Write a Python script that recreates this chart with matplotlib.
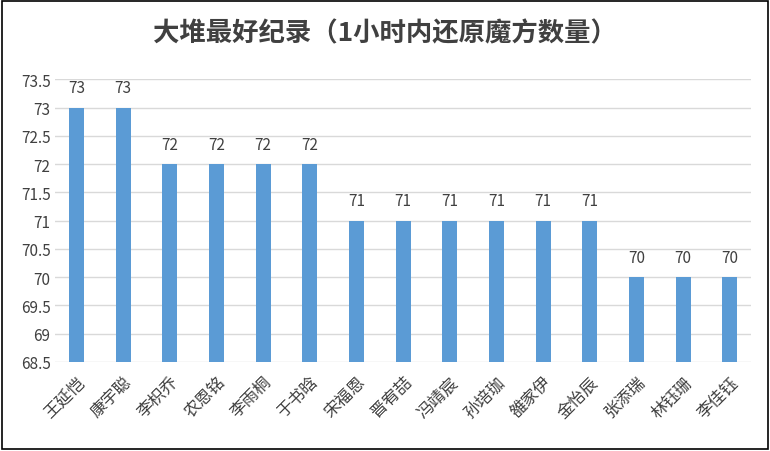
import matplotlib.pyplot as plt
import numpy as np

plt.rcParams['font.family'] = ['Noto Sans CJK SC', 'DejaVu Sans']

names = ['王延恺', '康宇聪', '李枳乔', '农恩铭', '李雨桐', '于书晗', '宋福恩', '晋宥喆',
         '冯靖宸', '孙培珈', '雒家伊', '金怡辰', '张添瑞', '林钰珊', '李佳钰']
scores = [73, 73, 72, 72, 72, 72, 71, 71, 71, 71, 71, 71, 70, 70, 70]
yticks = [68.5, 69, 69.5, 70, 70.5, 71, 71.5, 72, 72.5, 73, 73.5]

fig = plt.figure(figsize=(7.7, 4.52), dpi=100)
ax = fig.add_axes([0.072, 0.197, 0.903, 0.625])
x = np.arange(len(names))
ax.bar(x, scores, width=0.32, color='#5B9BD5', zorder=2)
for xi, v in zip(x, scores):
    ax.text(xi, v + 0.2, f'{v}', ha='center', va='bottom', fontsize=11, color='#404040')

ax.set_ylim(68.5, 73.5)
ax.set_xlim(-0.45, len(names) - 0.55)
ax.set_yticks(yticks)
ax.set_yticklabels([f'{t:g}' for t in yticks], fontsize=11, color='#404040')
ax.set_xticks(x)
ax.set_xticklabels(names, rotation=45, ha='right', rotation_mode='anchor',
                   fontsize=12, color='#404040')
ax.grid(axis='y', color='#D9D9D9', linewidth=1, zorder=0)
for s in ax.spines.values():
    s.set_visible(False)
ax.tick_params(length=0)
ax.tick_params(axis='x', pad=8)

fig.text(0.5, 0.925, '大堆最好纪录（1小时内还原魔方数量）', ha='center', va='center',
         fontsize=19, fontweight='bold', color='#404040')
fig.patches.append(plt.Rectangle((0.003, 0.004), 0.994, 0.992, transform=fig.transFigure,
                                 fill=False, edgecolor='black', linewidth=1.2))
fig.savefig('out.png', dpi=100)
